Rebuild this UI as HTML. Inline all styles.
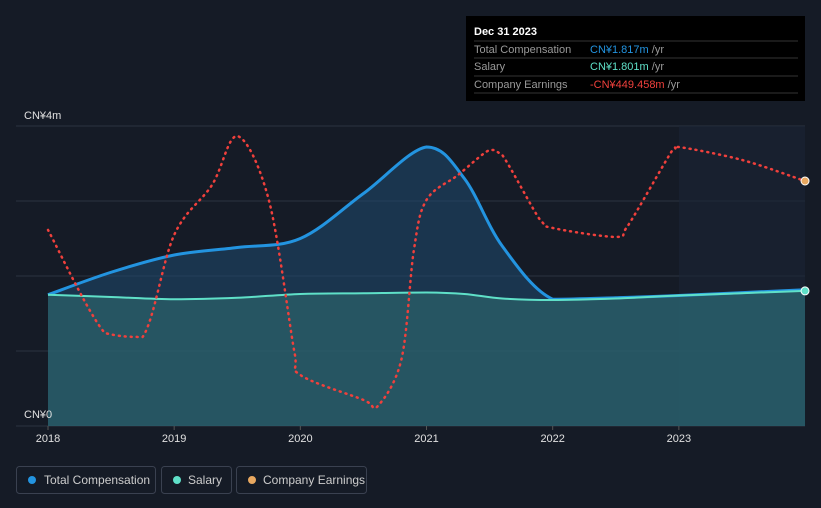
<!DOCTYPE html>
<html><head><meta charset="utf-8"><style>
body{margin:0;background:#151b26;font-family:"Liberation Sans",sans-serif;}
svg{display:block}
</style></head><body>
<svg id="c" width="821" height="508">
<rect width="821" height="508" fill="#151b26"/>
<g id="grid"></g>
<rect x="679" y="126" width="126" height="300" fill="#1b2536" opacity="0.6"/>
<g id="areas"></g>
<g id="lines"></g>
<g id="ticks"></g>
<text x="24" y="119" fill="#e0e0e0" font-size="11">CN¥4m</text>
<text x="24" y="418" fill="#e0e0e0" font-size="11">CN¥0</text>
<g>
<rect x="466" y="16" width="339" height="85" fill="#000"/>
<text x="474" y="35" fill="#fff" font-size="11" font-weight="bold">Dec 31 2023</text>
<line x1="474" y1="41" x2="798" y2="41" stroke="#333"/>
<text x="474" y="53" fill="#999" font-size="11">Total Compensation</text>
<text x="590" y="53" fill="#2394e0" font-size="11">CN¥1.817m <tspan fill="#999">/yr</tspan></text>
<line x1="474" y1="58" x2="798" y2="58" stroke="#333"/>
<text x="474" y="70" fill="#999" font-size="11">Salary</text>
<text x="590" y="70" fill="#5fe0c8" font-size="11">CN¥1.801m <tspan fill="#999">/yr</tspan></text>
<line x1="474" y1="76" x2="798" y2="76" stroke="#333"/>
<text x="474" y="88" fill="#999" font-size="11">Company Earnings</text>
<text x="590" y="88" fill="#f0403c" font-size="11">-CN¥449.458m <tspan fill="#999">/yr</tspan></text>
<line x1="474" y1="93" x2="798" y2="93" stroke="#333"/>
</g>
<g>
<g><rect x="16.5" y="466.5" width="139" height="27" rx="3" fill="none" stroke="#3a4150"/><circle cx="32" cy="480" r="4" fill="#2394e0"/><text x="44" y="484" fill="#ccc" font-size="12">Total Compensation</text></g>
<g><rect x="161.5" y="466.5" width="70" height="27" rx="3" fill="none" stroke="#3a4150"/><circle cx="177" cy="480" r="4" fill="#5fe0c8"/><text x="188" y="484" fill="#ccc" font-size="12">Salary</text></g>
<g><rect x="236.5" y="466.5" width="130" height="27" rx="3" fill="none" stroke="#3a4150"/><circle cx="252" cy="480" r="4" fill="#e8a860"/><text x="263" y="484" fill="#ccc" font-size="12">Company Earnings</text></g>
</g>
</svg>
<script>
const yearTicks=[2018,2019,2020,2021,2022,2023];
const compYears=[2018,2018.5,2019,2019.5,2020,2020.5,2021,2021.3,2021.6,2022,2022.5,2023,2024];
const totalComp=[1.75,2.05,2.28,2.38,2.5,3.1,3.72,3.3,2.4,1.69,1.71,1.74,1.817];
const salary=[1.75,1.72,1.69,1.71,1.76,1.77,1.78,1.76,1.7,1.68,1.7,1.74,1.801];
const earnYears=[2018,2018.45,2018.75,2019,2019.3,2019.5,2019.75,2019.95,2020,2020.5,2020.6,2020.8,2020.9,2021,2021.25,2021.5,2021.6,2021.9,2022,2022.5,2022.6,2022.95,2023,2023.5,2024];
const earnings=[-939,-1969,-2009,-989,-489,1,-639,-2139,-2389,-2639,-2719,-2239,-1139,-639,-389,-139,-189,-839,-919,-1009,-889,-139,-109,-239,-449.458];
const NS="http://www.w3.org/2000/svg";
const x=t=>48+(t-2018)*126.17;
const y=v=>426-v*75;
const ye=v=>181-(v+449.458)/10;
function path(pts){let d="M"+pts[0][0]+","+pts[0][1];for(let i=0;i<pts.length-1;i++){const p0=pts[i-1]||pts[i],p1=pts[i],p2=pts[i+1],p3=pts[i+2]||p2;const lo=Math.min(p1[1],p2[1]),hi=Math.max(p1[1],p2[1]);const cl=v=>Math.max(lo,Math.min(hi,v));const c1=[p1[0]+(p2[0]-p0[0])/6,cl(p1[1]+(p2[1]-p0[1])/6)],c2=[p2[0]-(p3[0]-p1[0])/6,cl(p2[1]-(p3[1]-p1[1])/6)];d+="C"+c1+" "+c2+" "+p2;}return d;}
function el(tag,attrs,parent){const e=document.createElementNS(NS,tag);for(const k in attrs)e.setAttribute(k,attrs[k]);document.getElementById(parent).appendChild(e);return e;}
[0,1,2,3,4].forEach(v=>{const g=el("line",{x1:16,x2:805,y1:y(v),y2:y(v),stroke:"#2c3340"},"grid");});
yearTicks.forEach(t=>{const tx=el("text",{x:x(t),y:442,fill:"#e0e0e0","font-size":11,"text-anchor":"middle"},"ticks");tx.textContent=t;
const tl=el("line",{x1:x(t),x2:x(t),y1:426,y2:430,stroke:"#555"},"ticks");});
const tp=compYears.map((t,i)=>[x(t),y(totalComp[i])]);
const sp=compYears.map((t,i)=>[x(t),y(salary[i])]);
const ep=earnYears.map((t,i)=>[x(t),ye(earnings[i])]);
const x0=x(compYears[0]),x1=x(compYears[compYears.length-1]);
const ta=el("path",{d:path(tp)+"L"+x1+",426L"+x0+",426Z",fill:"#1f4a70",opacity:0.55},"areas");

const sa=el("path",{d:path(sp)+"L"+x1+",426L"+x0+",426Z",fill:"#2f6a70",opacity:0.6},"areas");

const tl=el("path",{d:path(tp),fill:"none",stroke:"#2394e0","stroke-width":3},"lines");

const sl=el("path",{d:path(sp),fill:"none",stroke:"#5fe0c8","stroke-width":2},"lines");

const elp=el("path",{d:path(ep),fill:"none",stroke:"#f0403c","stroke-width":2.5,"stroke-dasharray":"1 5","stroke-linecap":"round"},"lines");

const sd=el("circle",{cx:sp[sp.length-1][0],cy:sp[sp.length-1][1],r:4,fill:"#5fe0c8",stroke:"#fff","stroke-width":1},"lines");

const ed=el("circle",{cx:ep[ep.length-1][0],cy:ep[ep.length-1][1],r:4,fill:"#e8a860",stroke:"#fff","stroke-width":1},"lines");

</script>
</body></html>
